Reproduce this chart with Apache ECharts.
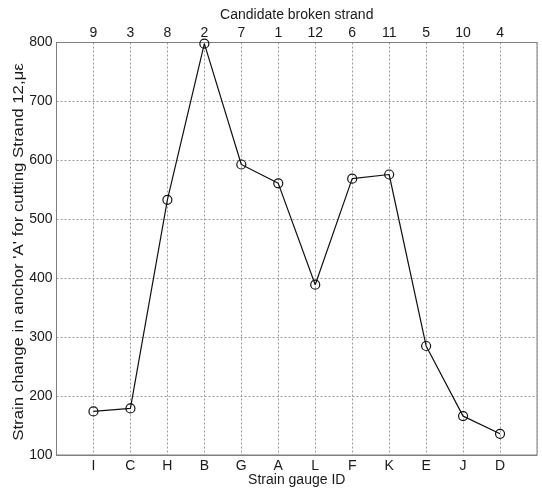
<!DOCTYPE html>
<html>
<head>
<meta charset="utf-8">
<script src="https://cdn.jsdelivr.net/npm/echarts@6/dist/echarts.min.js"></script>
<style>
  html, body { margin: 0; padding: 0; background: #fff; }
  #chart { width: 542px; height: 488px; }
</style>
</head>
<body>
<div id="chart"></div>
<script>
// Strain gauges in measurement order, and the strand each one points to
const gaugeIds = ['I', 'C', 'H', 'B', 'G', 'A', 'L', 'F', 'K', 'E', 'J', 'D'];
const candidateStrands = ['9', '3', '8', '2', '7', '1', '12', '6', '11', '5', '10', '4'];
// Strain change (microstrain) recorded when Strand 12 was cut
const strainChange = [174, 179, 533, 798, 593, 561, 389, 569, 576, 285, 166, 136];
const yTicks = [100, 200, 300, 400, 500, 600, 700, 800];
const yTitle = "Strain change in anchor 'A' for cutting Strand 12,με";

const points = strainChange.map((v, i) => [i + 1, v]);

const textColor = '#1a1a1a';
const frameColor = '#7f7f7f';
const gridLine = { show: true, lineStyle: { color: '#9a9a9a', type: [2, 2], width: 1 } };
const font = 'Liberation Sans, Arial, Helvetica, sans-serif';

function catLabel(list) {
  return v => (v >= 1 && v <= list.length && Number.isInteger(v)) ? list[v - 1] : '';
}

const chart = echarts.init(document.getElementById('chart'), null, { renderer: 'canvas' });
chart.setOption({
  animation: false,
  backgroundColor: '#fff',
  grid: {
    left: 56.5, right: 5, top: 42.5, bottom: 33,
    containLabel: false, outerBoundsMode: 'none',
    show: true, borderColor: frameColor, borderWidth: 1, backgroundColor: 'transparent'
  },
  // vertical title, stretched along its length like the tall figure lettering
  graphic: [{
    type: 'text',
    x: 19, y: 252,
    rotation: Math.PI / 2,
    scaleX: 1.2,
    style: {
      text: yTitle,
      font: '14px ' + font,
      fill: textColor,
      textAlign: 'center',
      textVerticalAlign: 'middle'
    }
  }],
  xAxis: [
    {
      type: 'value', position: 'bottom', min: 0, max: gaugeIds.length + 1, interval: 1,
      name: 'Strain gauge ID', nameLocation: 'middle', nameGap: 18, nameMoveOverlap: false,
      nameTextStyle: { color: textColor, fontSize: 14, fontFamily: font },
      axisLine: { show: true, lineStyle: { color: frameColor } },
      axisTick: { show: false },
      axisLabel: { color: textColor, fontSize: 14, fontFamily: font, margin: 4,
                   formatter: catLabel(gaugeIds), showMinLabel: false, showMaxLabel: false },
      splitLine: gridLine
    },
    {
      type: 'value', position: 'top', min: 0, max: candidateStrands.length + 1, interval: 1,
      name: 'Candidate broken strand', nameLocation: 'middle', nameGap: 20, nameMoveOverlap: false,
      nameTextStyle: { color: textColor, fontSize: 14, fontFamily: font },
      axisLine: { show: true, lineStyle: { color: frameColor } },
      axisTick: { show: false },
      axisLabel: { color: textColor, fontSize: 14, fontFamily: font, margin: 2,
                   formatter: catLabel(candidateStrands), showMinLabel: false, showMaxLabel: false },
      splitLine: { show: false }
    }
  ],
  yAxis: {
    type: 'value', min: yTicks[0], max: yTicks[yTicks.length - 1], interval: 100,
    axisLine: { show: true, lineStyle: { color: frameColor } },
    axisTick: { show: false },
    axisLabel: { color: textColor, fontSize: 14, fontFamily: font, margin: 4 },
    splitLine: gridLine
  },
  series: [{
    type: 'line',
    xAxisIndex: 0,
    data: points,
    symbol: 'circle',
    symbolSize: 9,
    itemStyle: { color: 'rgba(255,255,255,0)', borderColor: '#111', borderWidth: 1.2 },
    lineStyle: { color: '#111', width: 1.2 },
    z: 5
  }]
});
</script>
</body>
</html>
